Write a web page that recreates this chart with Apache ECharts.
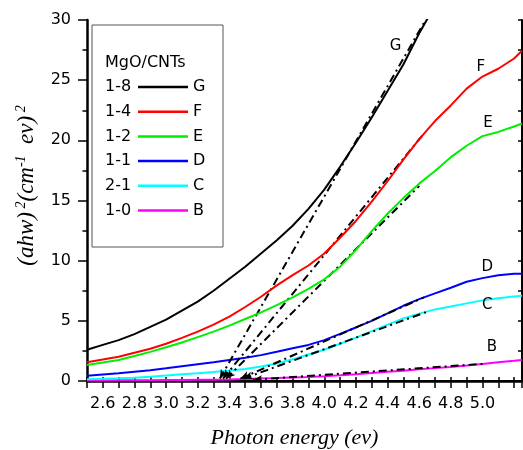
<!DOCTYPE html>
<html>
<head>
    <meta charset="utf-8">
    <title>MgO/CNTs band gap</title>
    <script src="https://cdn.jsdelivr.net/npm/echarts@6/dist/echarts.min.js"></script>
</head>
<body style="margin:0">
    <div id="main" style="width:523px;height:450px;"></div>
    <script>
        // photon energy (ev) where the curves were read
        var energy = [2.5, 2.6, 2.7, 2.8, 2.9, 3.0, 3.1, 3.2, 3.3, 3.4, 3.5, 3.6, 3.7, 3.8, 3.9,
                      4.0, 4.1, 4.2, 4.3, 4.4, 4.5, 4.6, 4.7, 4.8, 4.9, 5.0, 5.1, 5.2, 5.25];

        // (ahw)^2 for each sample
        var curveG = [2.6, 3.0, 3.4, 3.9, 4.5, 5.1, 5.85, 6.6, 7.5, 8.5, 9.5, 10.6, 11.7, 12.9, 14.3,
                      15.9, 17.8, 19.8, 21.9, 24.1, 26.3, 28.9, 31.2];
        var curveF = [1.55, 1.78, 2.02, 2.35, 2.68, 3.1, 3.58, 4.1, 4.68, 5.35, 6.15, 7.0, 7.95, 8.8, 9.6,
                      10.6, 11.9, 13.3, 14.9, 16.6, 18.4, 20.1, 21.6, 22.9, 24.3, 25.3, 25.95, 26.8, 27.45];
        var curveE = [1.33, 1.53, 1.75, 2.07, 2.42, 2.8, 3.2, 3.65, 4.1, 4.6, 5.15, 5.7, 6.3, 6.95, 7.65,
                      8.45, 9.5, 10.9, 12.45, 13.9, 15.2, 16.4, 17.45, 18.6, 19.55, 20.35, 20.7, 21.15, 21.4];
        var curveD = [0.44, 0.54, 0.64, 0.77, 0.9, 1.05, 1.23, 1.4, 1.56, 1.75, 1.93, 2.15, 2.43, 2.72, 3.0,
                      3.4, 3.92, 4.45, 5.0, 5.62, 6.25, 6.8, 7.28, 7.75, 8.25, 8.55, 8.78, 8.92, 8.92];
        var curveC = [0.14, 0.18, 0.22, 0.28, 0.35, 0.45, 0.56, 0.65, 0.75, 0.87, 1.0, 1.2, 1.45, 1.8, 2.2,
                      2.6, 3.1, 3.6, 4.15, 4.68, 5.2, 5.6, 5.95, 6.2, 6.45, 6.7, 6.88, 7.02, 7.08];
        var curveB = [0.05, 0.05, 0.06, 0.06, 0.07, 0.08, 0.09, 0.1, 0.11, 0.13, 0.16, 0.2, 0.24, 0.29, 0.34,
                      0.4, 0.47, 0.56, 0.66, 0.76, 0.86, 0.97, 1.07, 1.17, 1.28, 1.41, 1.55, 1.68, 1.75];

        // extrapolated linear fits: [energy, value] at the axis and at the top end
        var fitStart = [[3.34, 0.2], [3.36, 0.2], [3.38, 0.2], [3.47, 0.2], [3.49, 0.2], [3.55, 0.1]];
        var fitEnd = [[4.64, 30], [4.62, 20.4], [4.6, 16.2], [4.63, 6.95], [4.66, 5.8], [5.0, 1.42]];

        var ratios = ['1-8', '1-4', '1-2', '1-1', '2-1', '1-0'];
        var letters = ['G', 'F', 'E', 'D', 'C', 'B'];
        var curves = [curveG, curveF, curveE, curveD, curveC, curveB];
        // where the letter of each curve sits
        var letterAt = [[4.45, 27.8], [4.99, 26.1], [5.035, 21.45], [5.03, 9.5], [5.03, 6.3], [5.06, 2.85]];
        var colors = ['#000000', '#ff0000', '#00ee00', '#0000ff', '#00ffff', '#ff00ff'];

        var sans = 'DejaVu Sans, Liberation Sans, sans-serif';
        var serif = 'Liberation Serif, Times New Roman, serif';

        var myChart = echarts.init(document.getElementById('main'));

        var series = curves.map(function (vals, i) {
            var pts = [];
            for (var k = 0; k < vals.length; k++) pts.push([energy[k], vals[k]]);
            return {
                name: ratios[i],
                type: 'line',
                data: pts,
                showSymbol: false,
                symbol: 'none',
                clip: true,
                z: 2 + (5 - i),
                lineStyle: { color: colors[i], width: 2 },
                itemStyle: { color: colors[i] },
                markLine: {
                    silent: true,
                    symbol: ['arrow', 'none'],
                    symbolSize: [6, 9],
                    label: { show: false },
                    lineStyle: { color: '#000', width: 2, type: [8, 4, 2, 4] },
                    data: [[{ coord: fitStart[i] }, { coord: fitEnd[i] }]]
                },
                markPoint: {
                    silent: true,
                    symbol: 'circle',
                    symbolSize: 0,
                    data: [{ coord: letterAt[i], value: letters[i] }],
                    label: {
                        show: true, position: 'inside', formatter: letters[i],
                        color: '#000', fontSize: 15, fontFamily: sans
                    }
                }
            };
        });

        // legend box, title and the ratio in front of each row
        var legTop = 79, rowPitch = 24.7;
        var graphics = [
            { type: 'rect', shape: { x: 92, y: 25, width: 131, height: 222 },
              style: { fill: 'none', stroke: '#555', lineWidth: 1 }, z: 10 },
            { type: 'text', x: 105, y: 63, z: 10,
              style: { text: 'MgO/CNTs', fontSize: 16, fontFamily: sans, fill: '#000', verticalAlign: 'middle' } }
        ];
        ratios.forEach(function (r, i) {
            graphics.push({ type: 'text', x: 105, y: legTop + 8 + i * rowPitch, z: 10,
                style: { text: r, fontSize: 16, fontFamily: sans, fill: '#000', verticalAlign: 'middle' } });
        });

        var axisFont = { fontSize: 16, fontFamily: sans, color: '#000' };

        myChart.setOption({
            animation: false,
            backgroundColor: '#fff',
            grid: { left: 87, right: 1, top: 20, bottom: 69, outerBoundsMode: 'none' },
            legend: {
                data: ratios.map(function (r) { return { name: r, icon: 'rect' }; }),
                orient: 'vertical',
                left: 138, top: legTop,
                padding: 0,
                itemWidth: 50, itemHeight: 2.5, itemGap: rowPitch - 16,
                selectedMode: false,
                formatter: function (n) { return letters[ratios.indexOf(n)]; },
                textStyle: { fontSize: 16, lineHeight: 16, fontFamily: sans, color: '#000' }
            },
            graphic: graphics,
            xAxis: [{
                type: 'value', min: 2.5, max: 5.25, interval: 0.1,
                position: 'bottom',
                name: 'Photon energy (ev)', nameLocation: 'middle', nameGap: 46,
                nameTextStyle: { fontFamily: serif, fontStyle: 'italic', fontSize: 22, color: '#000', padding: [0, 20, 0, 0] },
                axisLine: { lineStyle: { color: '#000', width: 2.5 } },
                axisTick: { length: 7, lineStyle: { color: '#000', width: 1.5 } },
                axisLabel: Object.assign({
                    margin: 15,
                    formatter: function (v) {
                        var t = Math.round(v * 10);
                        return (t % 2 === 0 && t <= 50) ? (t / 10).toFixed(1) : '';
                    }
                }, axisFont),
                splitLine: { show: false }
            }, {
                type: 'value', min: 2.5, max: 5.25, interval: 0.1,
                position: 'top',
                axisLine: { lineStyle: { color: '#000', width: 2 } },
                axisTick: { length: 4, lineStyle: { color: '#000', width: 1.5 } },
                axisLabel: { show: false },
                splitLine: { show: false }
            }],
            yAxis: [{
                type: 'value', min: 0, max: 30, interval: 5,
                position: 'left',
                name: '{t|(ahw)}{s| 2}{t|(cm}{s|-1}{t|  ev)}{s| 2}',
                nameLocation: 'middle', nameGap: 48, nameRotate: 90,
                nameTextStyle: {
                    padding: [0, 0, 0, 30],
                    rich: {
                        t: { fontFamily: serif, fontStyle: 'italic', fontSize: 23, color: '#000', lineHeight: 25 },
                        s: { fontFamily: serif, fontStyle: 'italic', fontSize: 14, color: '#000', verticalAlign: 'top', lineHeight: 25 }
                    }
                },
                axisLine: { show: true, lineStyle: { color: '#000', width: 2.5 } },
                axisTick: { length: 9, lineStyle: { color: '#000', width: 1.5 } },
                minorTick: { show: true, splitNumber: 2, length: 4.5, lineStyle: { color: '#000', width: 1.5 } },
                axisLabel: Object.assign({ margin: 16 }, axisFont),
                splitLine: { show: false }
            }, {
                type: 'value', min: 0, max: 30, interval: 2.5,
                position: 'right',
                axisLine: { show: true, lineStyle: { color: '#000', width: 2 } },
                axisTick: { inside: true, length: 4, lineStyle: { color: '#000', width: 1.5 } },
                axisLabel: { show: false },
                splitLine: { show: false }
            }],
            series: series
        });
    </script>
</body>
</html>
